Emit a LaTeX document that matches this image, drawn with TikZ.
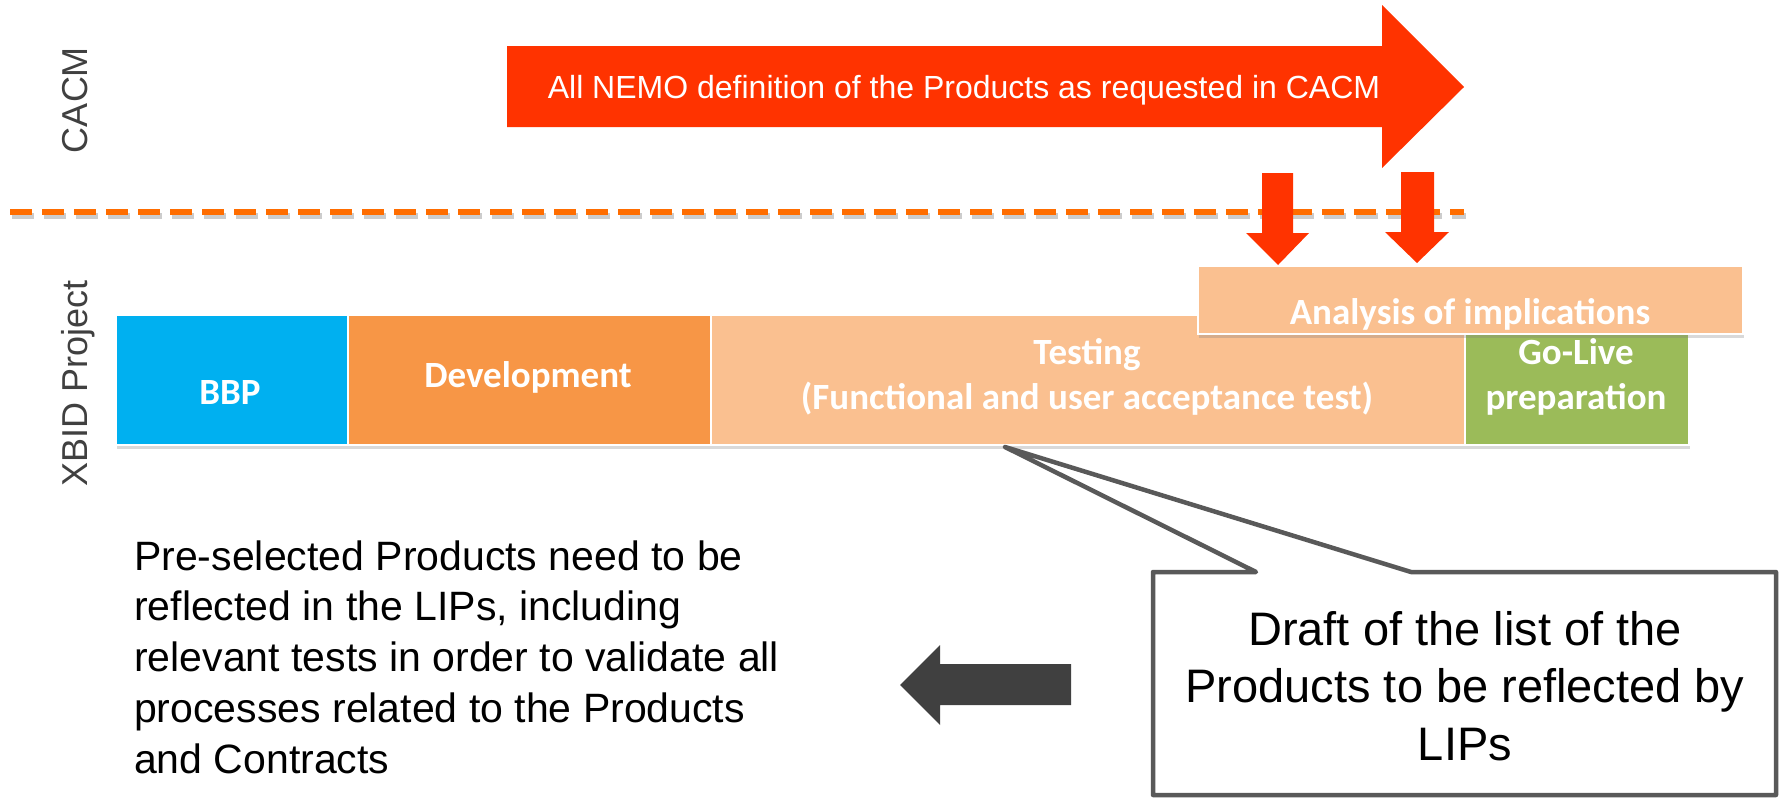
\documentclass[tikz,border=0pt]{standalone}
\usepackage{fontspec}
\setmainfont{Liberation Sans}
\newfontfamily\boxfont{Carlito}
\usetikzlibrary{shadows}
\definecolor{cred}{HTML}{FF3300}
\definecolor{cdash}{HTML}{FF6D00}
\definecolor{cbbp}{HTML}{00B0F0}
\definecolor{cdev}{HTML}{F79646}
\definecolor{ctest}{HTML}{FAC090}
\definecolor{cgo}{HTML}{9BBB59}
\definecolor{cgray}{HTML}{404040}
\definecolor{cline}{HTML}{595959}
\tikzset{
  phase/.style={draw=white, line width=2pt, anchor=north west, inner sep=0pt,
    drop shadow={shadow xshift=1pt, shadow yshift=-4pt, opacity=0.3, fill=black!50}},
  boxtxt/.style={text=white, font=\boxfont\bfseries\fontsize{37}{44}\selectfont, anchor=base, inner sep=0pt},
  sidelabel/.style={text=cgray, font=\fontsize{36}{40}\selectfont, rotate=90, anchor=base, inner sep=0pt},
}
\begin{document}
\begin{tikzpicture}[x=1pt,y=-1pt]
\useasboundingbox (0,0) rectangle (1781,798);

% side labels
\node[sidelabel] (cacm) at (87,100) {CACM};
\node[sidelabel] (xbid) at (87,383) {XBID Project};

% big red arrow
\fill[cred] (507,46) -- (1382,46) -- (1382,5) -- (1464,87) -- (1382,168) -- (1382,127) -- (507,127) -- cycle;
\node[text=white, font=\fontsize{32}{38}\selectfont, anchor=base, inner sep=0pt] (nemo) at (964,98)
  {All NEMO definition of the Products as requested in CACM};

% dashed separator
\coordinate (dl) at (10,212);
\coordinate (dr) at (1464,212);
\draw[black!40, opacity=0.5, line width=6.5pt, dash pattern=on 22pt off 10pt] ([shift={(2,4)}]dl) -- ([shift={(2,4)}]dr);
\draw[cdash, line width=6.5pt, dash pattern=on 22pt off 10pt] (dl) -- (dr);

% phases
\node[phase, fill=cbbp, minimum width=232pt, minimum height=130pt] (bbp) at (115,314) {};
\node[phase, fill=cdev, minimum width=363pt, minimum height=130pt] (dev) at (347,314) {};
\node[phase, fill=ctest, minimum width=754pt, minimum height=130pt] (test) at (710,314) {};
\node[phase, fill=cgo, minimum width=224pt, minimum height=130pt] (go) at (1464,314) {};
\node[phase, fill=ctest, minimum width=545pt, minimum height=68pt] (ana) at (1197,265) {};

\node[boxtxt] at (230,404) {BBP};
\node[boxtxt] at (528,387) {Development};
\node[boxtxt] at (1087,364) {Testing};
\node[boxtxt] at (1087,409) {(Functional and user acceptance test)};
\node[boxtxt] at (1576,364) {Go-Live};
\node[boxtxt] at (1576,409) {preparation};
\node[boxtxt] at (1470,324) {Analysis of implications};

% down arrows
\fill[cred] (1262,173) -- (1293,173) -- (1293,233) -- (1309,233) -- (1278,265) -- (1246,233) -- (1262,233) -- cycle;
\fill[cred] (1401,172) -- (1434,172) -- (1434,232) -- (1449,232) -- (1417,263) -- (1385,232) -- (1401,232) -- cycle;

% callout
\draw[cline, line width=4.5pt, fill=white, line join=round]
  (1153,572) -- (1256,572) -- (1005,447) -- (1411,572) -- (1776,572) -- (1776,795) -- (1153,795) -- cycle;
\node[anchor=base, inner sep=0pt, font=\fontsize{47}{57.5}\selectfont] (draft) at (1465,645)
  {\begin{tabular}[t]{@{}c@{}}Draft of the list of the\\Products to be reflected by\\LIPs\end{tabular}};

% dark left arrow
\fill[cgray] (900,685) -- (940,645) -- (940,664) -- (1071,664) -- (1071,705) -- (940,705) -- (940,725) -- cycle;

% left text
\node[anchor=base west, inner sep=0pt, font=\fontsize{41}{50.8}\selectfont] (pre) at (134,570)
  {\begin{tabular}[t]{@{}l@{}}Pre-selected Products need to be\\reflected in the LIPs, including\\relevant tests in order to validate all\\processes related to the Products\\and Contracts\end{tabular}};
\end{tikzpicture}
\end{document}
